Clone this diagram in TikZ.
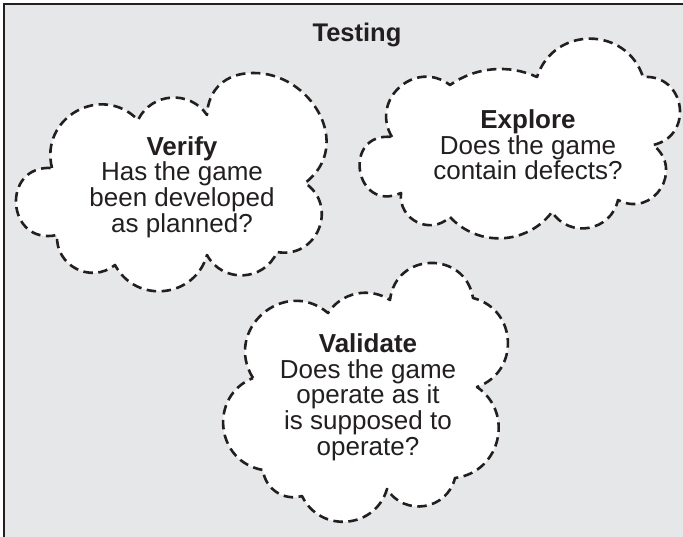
\documentclass[tikz,border=0pt]{standalone}
\usepackage{fontspec}
\setmainfont{Liberation Sans}
\definecolor{bggray}{RGB}{230,231,232}
\definecolor{ink}{RGB}{35,31,32}
\tikzset{
  lobe/.code={\pgfmathsetmacro\lobeL{0.8514/(cos(#1/2)^2)}\edef\lobetmp{\noexpand\tikzset{bend left=#1,looseness=\lobeL}}\lobetmp},
  cloud/.style={draw=ink, fill=white, line width=2.6pt, dash pattern=on 9.5pt off 5.5pt, line join=round},
  cloudtext/.style={align=center, text=ink, font=\fontsize{26}{25.7}\selectfont, inner sep=0pt},
  frame/.style={fill=bggray, draw=ink, line width=2pt}
}
\begin{document}
\begin{tikzpicture}[x=1pt,y=-1pt]
\useasboundingbox (0,0) rectangle (683,536);
\clip (0,0) rectangle (683,536);
\draw[frame] (4,4) rectangle (700,560);
\node[font=\fontsize{25.5}{30}\selectfont\bfseries, text=ink, anchor=base, inner sep=0pt] (title) at (357,41.7) {Testing};
% Verify cloud
\draw[cloud] (52,168) to[lobe=75] (138,120) to[lobe=60] (207,115)
  .. controls (208,90) and (225,73) .. (253,73)
  .. controls (310,72) and (355,145) .. (305,183)
  to[lobe=78] (277,252) to[lobe=64] (207,255) to[lobe=68] (115,265) to[lobe=66] (57,235)
  to[lobe=98] (52,168) -- cycle;
% Explore cloud
\draw[cloud] (392,137) to[lobe=79] (450,85) to[lobe=30] (537,77) to[lobe=72] (643,77)
  to[lobe=86] (653,145) to[lobe=85] (618,200) to[lobe=67] (552,212) to[lobe=50] (450,217)
  to[lobe=70] (401,193) to[lobe=105] (392,137) -- cycle;
% Validate cloud
\draw[cloud] (253,378) to[lobe=81] (328,313) to[lobe=45] (390,300) to[lobe=82] (473,298)
  to[lobe=73] (477,387) to[lobe=69] (455,478) to[lobe=67] (387,489) to[lobe=69] (302,496)
  to[lobe=50] (263,470) to[lobe=74] (253,378) -- cycle;
\node[cloudtext] (verify) at (182,187) {\textbf{Verify}\\Has the game\\been developed\\as planned?};
\node[cloudtext] (explore) at (528,145) {\textbf{Explore}\\Does the game\\contain defects?};
\node[cloudtext] (validate) at (368,397) {\textbf{Validate}\\Does the game\\operate as it\\is supposed to\\operate?};
\end{tikzpicture}
\end{document}
